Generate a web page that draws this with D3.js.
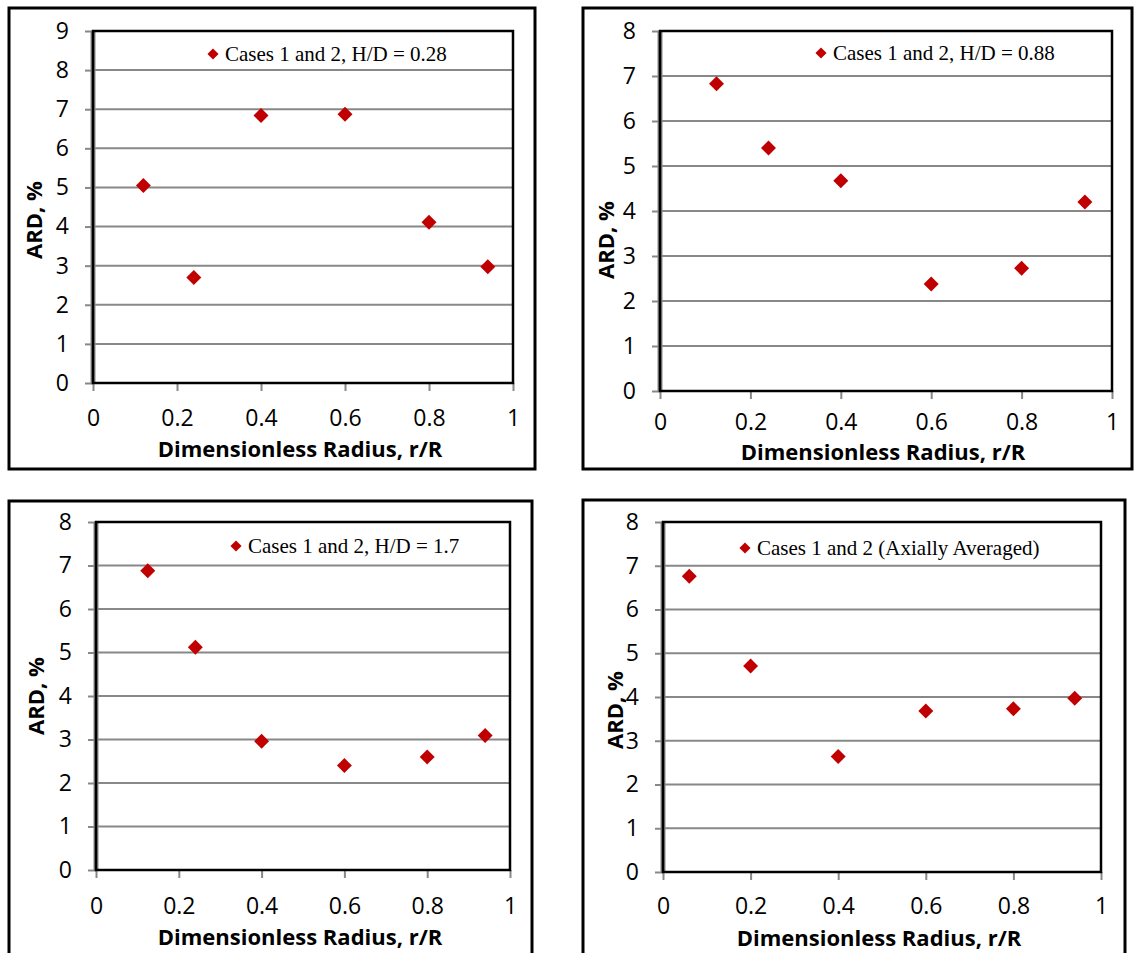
<!DOCTYPE html>
<meta charset="utf-8">
<script src="https://d3js.org/d3.v7.min.js"></script>
<style>
  body { margin: 0; background: #fff; }
  .tick text { font-family: "Open Sans", sans-serif; font-size: 23px; fill: #000; }
  .tick line { stroke: #888; stroke-width: 2; }
  .legend { font-family: "Liberation Serif", "Times New Roman", serif; font-size: 21px; }
  .title { font-family: "Open Sans", sans-serif; font-size: 22px; font-weight: bold; }
</style>
<body>
<div id="chart"></div>
<script>
// data
var xTicks = [0, 0.2, 0.4, 0.6, 0.8, 1];

var r1 = [0.12, 0.24, 0.4, 0.6, 0.8, 0.94];
var ard1 = [5.05, 2.7, 6.84, 6.87, 4.11, 2.97];

var r2 = [0.125, 0.24, 0.4, 0.6, 0.8, 0.94];
var ard2 = [6.83, 5.4, 4.67, 2.38, 2.73, 4.2];

var r3 = [0.125, 0.24, 0.4, 0.6, 0.8, 0.94];
var ard3 = [6.88, 5.12, 2.96, 2.4, 2.6, 3.09];

var r4 = [0.06, 0.2, 0.4, 0.6, 0.8, 0.94];
var ard4 = [6.76, 4.71, 2.64, 3.68, 3.73, 3.97];

var legends = ["Cases 1 and 2, H/D = 0.28", "Cases 1 and 2, H/D = 0.88",
               "Cases 1 and 2, H/D = 1.7", "Cases 1 and 2 (Axially Averaged)"];
var yMaxes = [9, 8, 8, 8];

// layout of each panel (pixels)
var panels = [
  {r: r1, v: ard1, frame: [9, 8, 526, 461], px: [93, 513], py: [383, 31], leg: [213, 54], yt: [42, 220], xt: 457, pad: 19},
  {r: r2, v: ard2, frame: [583, 8, 549, 461], px: [660, 1112], py: [391, 31], leg: [821, 53], yt: [614, 240], xt: 460, pad: 15},
  {r: r3, v: ard3, frame: [9, 501, 523, 470], px: [96, 510], py: [870, 522], leg: [236, 546], yt: [44, 696], xt: 945, pad: 20},
  {r: r4, v: ard4, frame: [583, 500, 542, 470], px: [663, 1101], py: [872, 522], leg: [745, 548], yt: [623, 710], xt: 946, pad: 18}
];

var svg = d3.select("#chart").append("svg")
  .attr("width", 1135)
  .attr("height", 953);

svg.append("rect").attr("width", 1135).attr("height", 953).attr("fill", "#fff");

var red = "#C00000";
var diamond = d3.symbol().type(d3.symbolSquare).size(112);
var diamondSmall = d3.symbol().type(d3.symbolSquare).size(62);

panels.forEach(function(p, i) {
  var g = svg.append("g");

  // outer frame
  g.append("rect")
    .attr("x", p.frame[0]).attr("y", p.frame[1])
    .attr("width", p.frame[2]).attr("height", p.frame[3])
    .attr("fill", "none").attr("stroke", "#000").attr("stroke-width", 3);

  var x = d3.scaleLinear().domain([0, 1]).range(p.px);
  var y = d3.scaleLinear().domain([0, yMaxes[i]]).range(p.py);

  // gridlines
  g.append("g").selectAll("line")
    .data(d3.range(1, yMaxes[i]))
    .join("line")
      .attr("x1", p.px[0]).attr("x2", p.px[1])
      .attr("y1", d => y(d)).attr("y2", d => y(d))
      .attr("stroke", "#888").attr("stroke-width", 2);

  // axes
  var xAxis = g.append("g")
    .attr("transform", "translate(0," + p.py[0] + ")")
    .call(d3.axisBottom(x).tickValues(xTicks).tickSize(8).tickPadding(p.pad)
      .tickFormat(d => String(d)));
  xAxis.select(".domain").remove();

  var yAxis = g.append("g")
    .attr("transform", "translate(" + p.px[0] + ",0)")
    .call(d3.axisLeft(y).ticks(yMaxes[i]).tickSize(8).tickPadding(16)
      .tickFormat(d3.format("d")));
  yAxis.select(".domain").remove();

  // left axis line (gray) and plot border (black)
  g.append("line")
    .attr("x1", p.px[0]).attr("x2", p.px[0])
    .attr("y1", p.py[0] + 1).attr("y2", p.py[1])
    .attr("stroke", "#888").attr("stroke-width", 5);
  g.append("rect")
    .attr("x", p.px[0]).attr("y", p.py[1])
    .attr("width", p.px[1] - p.px[0]).attr("height", p.py[0] - p.py[1])
    .attr("fill", "none").attr("stroke", "#000").attr("stroke-width", 2.5);

  // points
  g.append("g").selectAll("path")
    .data(p.r.map((d, j) => [d, p.v[j]]))
    .join("path")
      .attr("d", diamond)
      .attr("transform", d => "translate(" + x(d[0]) + "," + y(d[1]) + ") rotate(45)")
      .attr("fill", red);

  // legend
  g.append("path")
    .attr("d", diamondSmall)
    .attr("transform", "translate(" + p.leg[0] + "," + p.leg[1] + ") rotate(45)")
    .attr("fill", red);
  g.append("text")
    .attr("class", "legend")
    .attr("x", p.leg[0] + 12).attr("y", p.leg[1] + 7)
    .text(legends[i]);

  // axis titles
  g.append("text")
    .attr("class", "title")
    .attr("text-anchor", "middle")
    .attr("transform", "translate(" + p.yt[0] + "," + p.yt[1] + ") rotate(-90)")
    .text("ARD, %");
  g.append("text")
    .attr("class", "title")
    .attr("text-anchor", "middle")
    .attr("x", (p.px[0] + p.px[1]) / 2 - 3).attr("y", p.xt)
    .text("Dimensionless Radius, r/R");
});
</script>
</body>
